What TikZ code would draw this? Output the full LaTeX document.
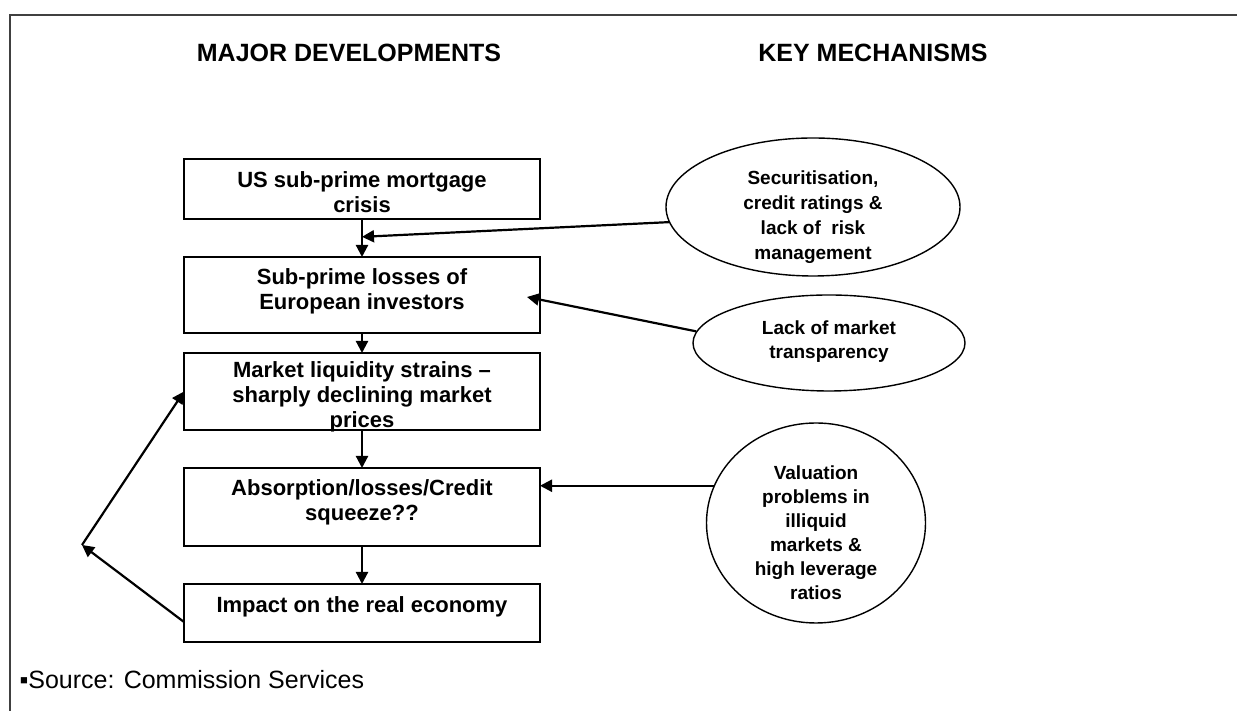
\documentclass[tikz,border=0pt]{standalone}
\usepackage{fontspec}
\setmainfont{Liberation Sans}
\usetikzlibrary{positioning,shapes.geometric,arrows.meta,calc}

\begin{document}
\begin{tikzpicture}[x=1pt,y=1pt,node distance=38pt,>={Triangle[length=12pt,width=12pt]},
	dev/.style 2 args={draw,line width=1.8pt,outer sep=0pt,minimum width=356pt,minimum height=#1,inner sep=2pt,align=center,text height=#2,text depth=0pt,font=\fontsize{22}{25}\selectfont\bfseries},
	mech/.style={draw,ellipse,line width=1.4pt,inner xsep=0pt,inner ysep=-12pt,align=center,text height=#1,text depth=0pt,font=\fontsize{19}{24}\selectfont\bfseries},
	heading/.style={anchor=base,font=\fontsize{25}{30}\selectfont\bfseries},
	link/.style={->,line width=2.2pt}]
	\useasboundingbox (0,0) rectangle (1237,711);
	\draw[line width=2.5pt,black!75] (1237,696) -- (10,696) -- (10,0);
	\node[heading] (h1) at (349,649) {MAJOR DEVELOPMENTS};
	\node[heading] (h2) at (873,649) {KEY MECHANISMS};
	\node[dev={60pt}{48pt}] (d1) at (362,522) {US sub-prime mortgage\\crisis};
	\node[dev={76pt}{30pt},below=of d1] (d2) {Sub-prime losses of\\European investors};
	\node[dev={77pt}{73pt},below=20pt of d2] (d3) {Market liquidity strains --\\sharply declining market\\prices};
	\node[dev={78pt}{28pt},below=of d3] (d4) {Absorption/losses/Credit\\squeeze??};
	\node[dev={58pt}{0pt},below=of d4] (d5) {Impact on the real economy};
	\node[mech=106pt,minimum width=294pt,minimum height=138pt,font=\fontsize{19}{25}\selectfont\bfseries] (k1) at (813,504) {Securitisation,\\credit ratings \&\\lack of\ \ risk\\management};
	\node[mech=32pt,minimum width=272pt,minimum height=96pt] (k2) at (829,368) {Lack of market\\transparency};
	\node[mech=154pt,minimum width=219pt,minimum height=200pt] (k3) at (816,188) {Valuation\\problems in\\illiquid\\markets \&\\high leverage\\ratios};
	\node[anchor=base west,font=\fontsize{25}{30}\selectfont] (src) at (16,22) {▪Source: Commission Services};
	\coordinate (j1) at ($(d1.south)!0.47!(d2.north)$);
	\coordinate (t2) at ($(d2.east)+(-13,-2)$);
	\coordinate (t4) at (k3.160 -| d4.east);
	\coordinate (r5) at ($(d5.west)+(0,-9)$);
	\coordinate (fb) at (82,166);
	\path (d1) edge[link] (d2)
		(d2) edge[link] (d3)
		(d3) edge[link] (d4)
		(d4) edge[link] (d5)
		(k1.186) edge[link] (j1)
		(k2.175) edge[link] (t2)
		(k3.160) edge[link] (t4)
		(r5) edge[link] (fb)
		(fb) edge[link] (d3.west);
\end{tikzpicture}
\end{document}
